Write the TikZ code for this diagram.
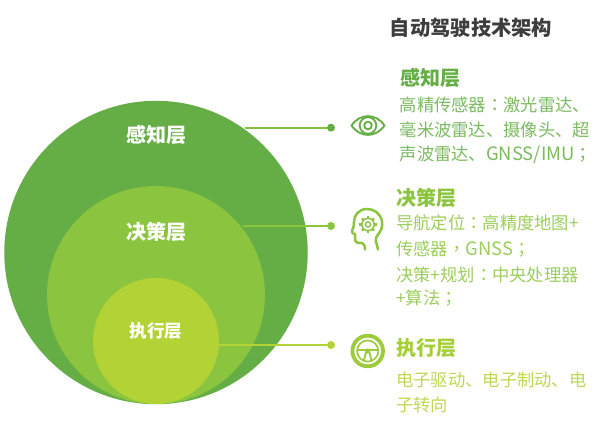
\documentclass[tikz,border=0pt]{standalone}
\usepackage{fontspec}
\setmainfont{Noto Sans CJK SC}
\newfontfamily\tcf{Noto Sans CJK TC}
\usetikzlibrary{positioning}
\definecolor{gA}{HTML}{65AE45}
\definecolor{gB}{HTML}{8BC53F}
\definecolor{gC}{HTML}{B2D235}
\definecolor{gW}{HTML}{9CCB3B}
\definecolor{ttl}{HTML}{3D3D3D}
\newcommand{\pcolon}{{\tcf ：}}
\newcommand{\psemi}{{\tcf ；}}
\newcommand{\pcomma}{{\tcf ，}}
\newcommand{\lat}[1]{{\fontsize{18.4}{20}\selectfont #1}}
\tikzset{
  disc/.style={circle,inner sep=0pt,minimum size=#1},
  dotn/.style={circle,inner sep=0pt,minimum size=8pt,fill=#1},
  lead/.style={line width=2pt,draw=#1},
  inlabel/.style={text=white,font=\fontsize{#1}{#1}\selectfont\bfseries,inner sep=0pt},
  head/.style={text=#1,anchor=west,inner sep=0pt,font=\fontsize{20}{20}\selectfont\bfseries},
  body/.style={text=#1,anchor=west,inner sep=0pt,font=\fontsize{17.3}{20}\selectfont},
  icon/.style={draw=#1,line cap=round,line join=round,fill=none}
}
\begin{document}
\begin{tikzpicture}[x=1pt,y=-1pt]
\useasboundingbox (0,0) rectangle (600,441);
\fill[white] (0,0) rectangle (600,441);
\node[disc=303.4pt,fill=gA] (outer) at (156,252.5) {};
\node[disc=218pt,fill=gB] (mid) at (156,295) {};
\node[disc=126pt,fill=gC] (inn) at (156,341) {};
\node[inlabel=20] (l1) at (156,135) {感知层};
\node[inlabel=20] (l2) at (156,232) {决策层};
\node[inlabel=17.5] (l3) at (156,331) {执行层};
\node[anchor=center,inner sep=0pt,text=ttl,font=\fontsize{20.3}{20}\selectfont\bfseries] (title) at (471,28) {自动驾驶技术架构};
% connectors
\node[dotn=gA] (d1) at (331,127.7) {};
\node[dotn=gB] (d2) at (331,226) {};
\node[dotn=gC] (d3) at (331,345) {};
\coordinate (s1) at (245,127.7);
\coordinate (s2) at (243,226);
\coordinate (s3) at (219,345);
\draw[lead=gB!80!gA] (s1) -- (d1);
\draw[lead=gB] (s2) -- (d2);
\draw[lead=gC] (s3) -- (d3);
% eye icon
\draw[icon=gA,line width=1.9pt] (351.5,125.5) .. controls (360,113) and (376,113) .. (384.5,125.5) .. controls (376,138) and (360,138) .. (351.5,125.5) -- cycle;
\draw[icon=gA,line width=1.8pt] (368,125.5) circle (8.3);
\draw[icon=gA,line width=1.8pt] (368,125.5) circle (3.8);
% head icon
\draw[icon=gB,line width=2.5pt] (378,249.5) .. controls (377,243) and (374,240) .. (377,236) .. controls (381,231) and (383,227) .. (382,221) .. controls (380,213) and (374,209) .. (367,209) .. controls (359,209) and (354,215) .. (354,222) .. controls (354,226) and (353,229) .. (352,231) .. controls (351,233) and (354,234) .. (355,234) -- (355,239) .. controls (355,243) and (358,243) .. (362,243) .. controls (364,243) and (365,246) .. (365,249.5);
\foreach \a in {0,45,...,315}
  \draw[gB,line width=2.2pt] (368,224.5) ++(\a:6) -- ++(\a:2.6);
\draw[icon=gB,line width=1.5pt] (368,224.5) circle (6.2);
\draw[icon=gB,line width=1.4pt] (368,224.5) circle (2.6);
% wheel icon
\draw[icon=gW,line width=3.8pt] (367.7,351) circle (15.3);
\draw[icon=gW,line width=1.7pt] (367.7,351) circle (10.6);
\draw[icon=gW,line width=1.9pt] (357.5,349.8) -- (378,349.8);
\draw[icon=gW,line width=1.9pt] (366,352.5) -- (364,360);
\draw[icon=gW,line width=1.9pt] (369.4,352.5) -- (371.4,360);
\fill[gW] (367.7,351) circle (2.6);
% text block 1
\node[head=gA] (h1) at (400,78) {感知层};
\node[body=gA!85!white] (a1) at (399.5,105) {高精传感器\pcolon 激光雷达、};
\node[body=gA!85!white] (a2) at (399.5,130) {毫米波雷达、摄像头、超};
\node[body=gA!85!white] (a3) at (399.5,154.5) {声波雷达、\lat{GNSS/IMU}\psemi};
% text block 2
\node[head=gB] (h2) at (396,198) {决策层};
\node[body=gB!85!white] (b1) at (396,223) {导航定位\pcolon 高精度地图+};
\node[body=gB!85!white] (b2) at (396,249) {传感器\pcomma \lat{GNSS}\psemi};
\node[body=gB!85!white] (b3) at (396,275) {决策+规划\pcolon 中央处理器};
\node[body=gB!85!white] (b4) at (396,298.5) {+算法\psemi};
% text block 3
\node[head=gW!60!gC] (h3) at (396,348) {执行层};
\node[body=gC!85!white] (c1) at (396,380) {电子驱动、电子制动、电};
\node[body=gC!85!white] (c2) at (396,405) {子转向};
\end{tikzpicture}
\end{document}
